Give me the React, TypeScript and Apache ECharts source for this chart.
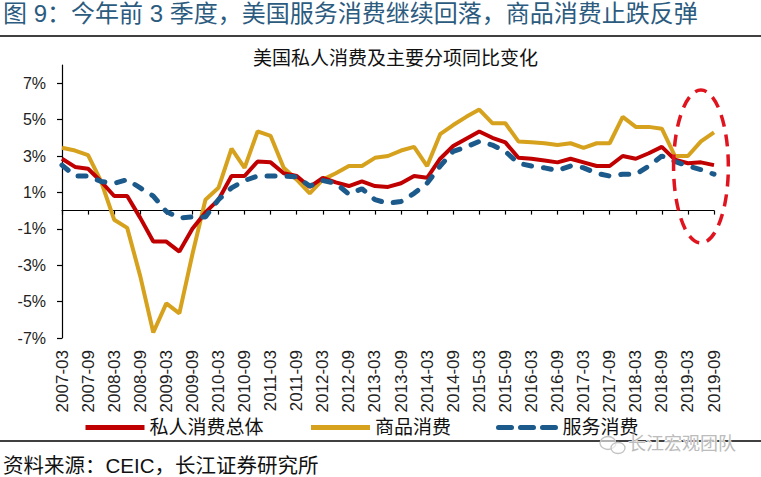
import React, { useEffect, useRef } from 'react';
import * as echarts from 'echarts';

const categories = [
  '2007-03', '2007-06', '2007-09', '2007-12',
  '2008-03', '2008-06', '2008-09', '2008-12',
  '2009-03', '2009-06', '2009-09', '2009-12',
  '2010-03', '2010-06', '2010-09', '2010-12',
  '2011-03', '2011-06', '2011-09', '2011-12',
  '2012-03', '2012-06', '2012-09', '2012-12',
  '2013-03', '2013-06', '2013-09', '2013-12',
  '2014-03', '2014-06', '2014-09', '2014-12',
  '2015-03', '2015-06', '2015-09', '2015-12',
  '2016-03', '2016-06', '2016-09', '2016-12',
  '2017-03', '2017-06', '2017-09', '2017-12',
  '2018-03', '2018-06', '2018-09', '2018-12',
  '2019-03', '2019-06', '2019-09',
];

const totalPCE = [
  2.85, 2.4, 2.3, 1.6, 0.8, 0.8, -0.4, -1.7, -1.7, -2.25, -1.0, -0.1,
  0.6, 1.9, 1.9, 2.7, 2.65, 2.05, 1.9, 1.3, 1.8, 1.55, 1.35, 1.6,
  1.35, 1.3, 1.5, 1.9, 1.8, 2.85, 3.55, 3.95, 4.35, 4.0, 3.75, 2.9,
  2.85, 2.75, 2.65, 2.85, 2.65, 2.45, 2.45, 3.0, 2.85, 3.15, 3.5, 2.8,
  2.6, 2.65, 2.5,
];

const goodsPCE = [
  3.45, 3.3, 3.05, 1.6, -0.5, -0.95, -3.6, -6.7, -5.1, -5.65, -2.4, 0.6,
  1.25, 3.4, 2.35, 4.35, 4.1, 2.35, 1.7, 0.95, 1.7, 2.05, 2.45, 2.45,
  2.9, 3.0, 3.3, 3.5, 2.45, 4.2, 4.7, 5.15, 5.55, 4.8, 4.8, 3.8,
  3.75, 3.7, 3.6, 3.7, 3.45, 3.7, 3.7, 5.15, 4.6, 4.6, 4.5, 3.0,
  3.0, 3.8, 4.3,
];

const servicesPCE = [
  2.5, 1.9, 1.9, 1.6, 1.5, 1.7, 1.25, 0.8, -0.05, -0.4, -0.35, -0.35,
  0.6, 1.25, 1.65, 1.9, 1.9, 1.9, 1.85, 1.35, 1.65, 1.5, 0.9, 1.2,
  0.6, 0.4, 0.5, 0.95, 1.5, 2.45, 3.25, 3.5, 3.8, 3.6, 3.25, 2.6,
  2.45, 2.35, 2.2, 2.45, 2.35, 2.05, 1.9, 2.0, 2.0, 2.45, 3.0, 2.7,
  2.45, 2.25, 2.0,
];

const yTickValues = [-7, -5, -3, -1, 1, 3, 5, 7];

const seriesNames = ['私人消费总体', '商品消费', '服务消费'];
const headline = '图 9：今年前 3 季度，美国服务消费继续回落，商品消费止跌反弹';
const chartTitle = '美国私人消费及主要分项同比变化';
const sourceNote = '资料来源：CEIC，长江证券研究所';
const watermark = '长江宏观团队';

const FONT = "'Liberation Sans', 'Noto Sans CJK SC', sans-serif";
const RED = '#C00000';
const GOLD = '#D6A11C';
const BLUE = '#1B5A8A';

export default function App() {
  const ref = useRef<HTMLDivElement>(null);

  useEffect(() => {
    const chart = echarts.init(ref.current!, null, { renderer: 'svg' });
    chart.setOption({
      animation: false,
      backgroundColor: '#ffffff',
      title: [
        {
          text: headline,
          left: 3,
          top: 1,
          padding: 0,
          textStyle: { fontFamily: FONT, fontSize: 24, fontWeight: 'normal', color: '#2C5B80' },
        },
        {
          text: chartTitle,
          left: 253,
          top: 49,
          padding: 0,
          textStyle: { fontFamily: FONT, fontSize: 19, fontWeight: 'normal', color: '#111111' },
        },
        {
          text: sourceNote,
          left: 3,
          top: 455,
          padding: 0,
          textStyle: { fontFamily: FONT, fontSize: 20.5, fontWeight: 'normal', color: '#111111' },
        },
      ],
      legend: {
        left: 83,
        top: 418,
        padding: 0,
        itemWidth: 59,
        itemHeight: 14,
        itemGap: 45,
        itemStyle: { opacity: 0 },
        lineStyle: { width: 5 },
        textStyle: { fontFamily: FONT, fontSize: 19, color: '#111111' },
        data: [
          { name: seriesNames[0] },
          { name: seriesNames[1] },
          { name: seriesNames[2], lineStyle: { type: [13, 9], cap: 'round', width: 5 } },
        ],
      },
      grid: { left: 62, right: 47, top: 65, bottom: 139, containLabel: false },
      xAxis: [
        {
          type: 'category',
          data: categories,
          boundaryGap: false,
          position: 'bottom',
          axisLine: { show: false, onZero: false },
          axisTick: { show: false },
          axisLabel: {
            interval: 1,
            rotate: 90,
            margin: 12,
            fontFamily: FONT,
            fontSize: 17,
            color: '#222222',
          },
          splitLine: { show: false },
        },
        {
          type: 'category',
          data: categories,
          boundaryGap: false,
          position: 'bottom',
          axisLine: { show: true, onZero: true, lineStyle: { color: '#000000', width: 1.2 } },
          axisTick: { show: true, interval: 1, length: 4, lineStyle: { color: '#000000', width: 1.2 } },
          axisLabel: { show: false },
          splitLine: { show: false },
        },
      ],
      yAxis: {
        type: 'value',
        min: -7,
        max: 8,
        axisLine: { show: true, lineStyle: { color: '#000000', width: 1.2 } },
        axisTick: { show: true, length: 5, customValues: yTickValues, lineStyle: { color: '#000000', width: 1.2 } },
        axisLabel: {
          customValues: yTickValues,
          formatter: '{value}%',
          margin: 16,
          fontFamily: FONT,
          fontSize: 16,
          color: '#222222',
        },
        splitLine: { show: false },
      },
      series: [
        {
          name: seriesNames[0],
          type: 'line',
          data: totalPCE,
          xAxisIndex: 0,
          symbol: 'none',
          color: RED,
          lineStyle: { color: RED, width: 4 },
          z: 3,
        },
        {
          name: seriesNames[1],
          type: 'line',
          data: goodsPCE,
          xAxisIndex: 0,
          symbol: 'none',
          color: GOLD,
          lineStyle: { color: GOLD, width: 4 },
          z: 2,
        },
        {
          name: seriesNames[2],
          type: 'line',
          data: servicesPCE,
          xAxisIndex: 0,
          symbol: 'none',
          color: BLUE,
          lineStyle: { color: BLUE, width: 5, type: [8, 12], cap: 'round' },
          z: 4,
        },
      ],
    });

    const finder = { xAxisIndex: 0, yAxisIndex: 0 };
    const center = chart.convertToPixel(finder, [49, 2.42]) as number[];
    const topPt = chart.convertToPixel(finder, [49, 6.62]) as number[];
    const leftPt = chart.convertToPixel(finder, [47, 2.42]) as number[];
    const rx = ((center[0] - leftPt[0]) / 2) * 2.1;
    const ry = center[1] - topPt[1];

    chart.setOption({
      graphic: [
        {
          type: 'line',
          shape: { x1: 0, y1: 36, x2: 761, y2: 36 },
          style: { stroke: '#000000', lineWidth: 1.5 },
          silent: true,
        },
        {
          type: 'line',
          shape: { x1: 0, y1: 441, x2: 761, y2: 441 },
          style: { stroke: '#000000', lineWidth: 1.5 },
          silent: true,
        },
        {
          type: 'ellipse',
          shape: { cx: center[0], cy: center[1], rx, ry },
          style: { fill: 'none', stroke: '#E0141E', lineWidth: 3.5, lineDash: [12, 8] },
          z: 100,
          silent: true,
        },
        {
          type: 'ellipse',
          shape: { cx: 608, cy: 443, rx: 8, ry: 6.5 },
          style: { fill: 'rgba(255,255,255,0.6)', stroke: '#c4c4c4', lineWidth: 1.3 },
          z: 110,
          silent: true,
        },
        {
          type: 'ellipse',
          shape: { cx: 618, cy: 448, rx: 7, ry: 5.5 },
          style: { fill: 'rgba(255,255,255,0.6)', stroke: '#c4c4c4', lineWidth: 1.3 },
          z: 111,
          silent: true,
        },
        {
          type: 'text',
          x: 628,
          y: 435,
          style: {
            text: watermark,
            fontFamily: FONT,
            fontSize: 18,
            fill: '#bcbcbc',
            stroke: '#ffffff',
            lineWidth: 1,
          },
          z: 112,
          silent: true,
        },
      ],
    });

    return () => chart.dispose();
  }, []);

  return (
    <div
      ref={ref}
      style={{ position: 'fixed', left: 0, top: 0, width: 761, height: 477 }}
    />
  );
}
